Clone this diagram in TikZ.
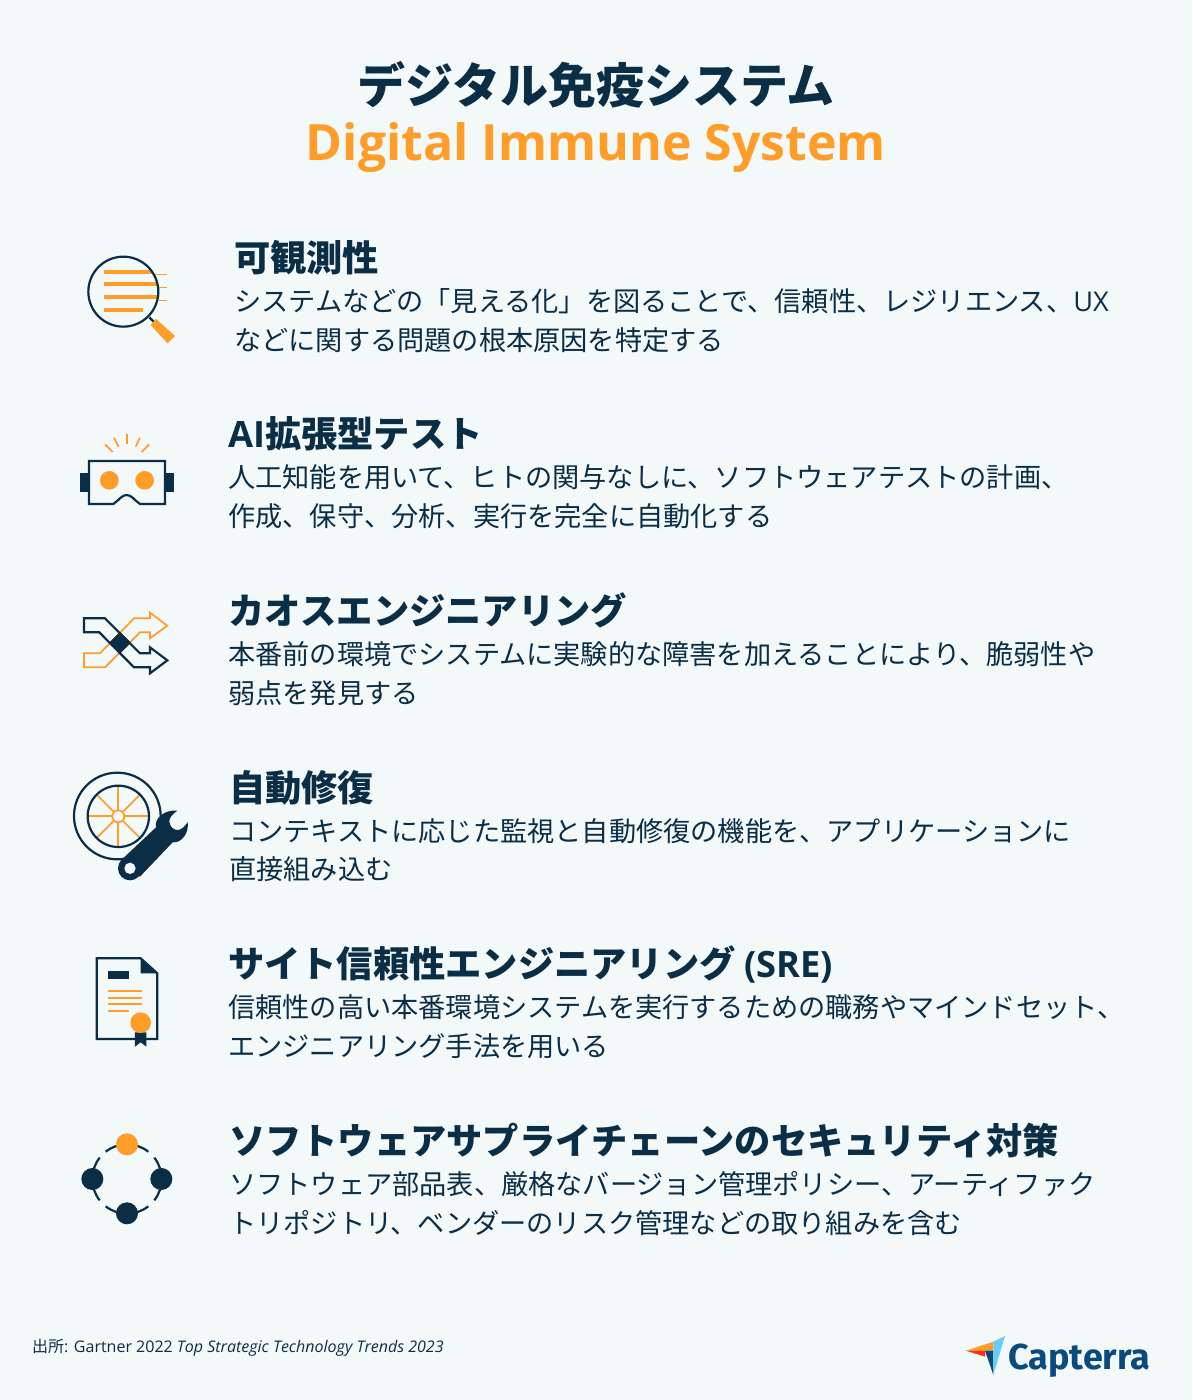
\documentclass[tikz,border=0pt]{standalone}
\usepackage{fontspec}
\usepackage{xcolor}
\usepackage{tikz}
\usetikzlibrary{positioning}
\setmainfont{Open Sans}
\newfontfamily\jpfont{Noto Sans CJK JP}
\newfontfamily\logofont{Fira Sans}
\definecolor{pagebg}{HTML}{F3F8F9}
\definecolor{navy}{HTML}{0B2E47}
\definecolor{amber}{HTML}{FF9D28}
\definecolor{capblue}{HTML}{0B4A7C}
\tikzset{
    maintitle/.style={anchor=base, inner sep=0pt, text=navy, font=\jpfont\bfseries\fontsize{48}{50}\selectfont},
    subtitle/.style={anchor=base, inner sep=0pt, text=amber, font=\bfseries\fontsize{50}{52}\selectfont},
    heading/.style={anchor=base west, inner sep=0pt, text=navy, font=\jpfont\bfseries\fontsize{36.25}{38}\selectfont},
    bodytext/.style={inner sep=0pt, align=left, text=navy, font=\jpfont\fontsize{27.2}{38.8}\selectfont},
    navyline/.style={draw=navy, line width=2.2pt},
    amberline/.style={draw=amber, line width=1.7pt},
}
\newcommand{\lat}[1]{{\rmfamily #1}}
\begin{document}
\begin{tikzpicture}[x=1pt, y=-1pt, line join=miter]
    \useasboundingbox (0,0) rectangle (1192,1400);
    \fill[pagebg] (0,0) rectangle (1192,1400);

    % Title
    \node[maintitle] (title) at (596,103) {デジタル免疫システム};
    \node[subtitle, below=57.5pt of title.base, anchor=base] (subtitle) {Digital Immune System};

    % Headings and their descriptions
    \node[heading] (head1) at (234,271) {可観測性};
    \node[bodytext, below=17pt of head1.base west, anchor=north west] (body1) {システムなどの「見える化」を図ることで、信頼性、レジリエンス、\lat{UX}\\などに関する問題の根本原因を特定する};

    \node[heading] (head2) at (228,447.5) {\lat{AI}拡張型テスト};
    \node[bodytext, below=17pt of head2.base west, anchor=north west] (body2) {人工知能を用いて、ヒトの関与なしに、ソフトウェアテストの計画、\\作成、保守、分析、実行を完全に自動化する};

    \node[heading] (head3) at (228,624) {カオスエンジニアリング};
    \node[bodytext, below=17pt of head3.base west, anchor=north west] (body3) {本番前の環境でシステムに実験的な障害を加えることにより、脆弱性や\\弱点を発見する};

    \node[heading] (head4) at (229,801) {自動修復};
    \node[bodytext, below=17pt of head4.base west, anchor=north west] (body4) {コンテキストに応じた監視と自動修復の機能を、アプリケーションに\\直接組み込む};

    \node[heading] (head5) at (228,977.5) {サイト信頼性エンジニアリング \lat{(SRE)}};
    \node[bodytext, below=17pt of head5.base west, anchor=north west] (body5) {信頼性の高い本番環境システムを実行するための職務やマインドセット、\\エンジニアリング手法を用いる};

    \node[heading] (head6) at (229,1154) {ソフトウェアサプライチェーンのセキュリティ対策};
    \node[bodytext, below=17pt of head6.base west, anchor=north west] (body6) {ソフトウェア部品表、厳格なバージョン管理ポリシー、アーティファク\\トリポジトリ、ベンダーのリスク管理などの取り組みを含む};

    % Source line
    \node[anchor=base west, inner sep=0pt, text=navy, font=\fontsize{16}{18}\selectfont] (source) at (32,1352) {{\jpfont 出所}: Gartner 2022 \textit{Top Strategic Technology Trends 2023}};

    % Magnifier icon
    \begin{scope}[shift={(60,230)}, scale=0.3333]
        \draw[amberline, line width=4pt] (133,126) -- (275,126);
        \draw[amberline, line width=4pt] (133,163) -- (295,163);
        \draw[amberline, line width=4pt] (133,202) -- (295,202);
        \draw[amberline, line width=4pt] (133,239) -- (248,239);
        \draw[amberline, line width=1pt] (285,135) -- (320,135);
        \draw[amberline, line width=1pt] (298,174) -- (320,174);
        \draw[amberline, line width=1pt] (298,211) -- (320,211);
        \draw[navyline] (190,185) circle (105);
        \draw[navyline] (268,262) -- (282,276);
        \fill[amber] (288,267) -- (345,318) -- (323,340) -- (272,285) -- cycle;
    \end{scope}

    % Goggles icon
    \begin{scope}[shift={(60,420)}, scale=0.3333]
        \draw[amberline] (135,73) -- (158,96);
        \draw[amberline] (162,53) -- (176,80);
        \draw[amberline] (202,43) -- (202,73);
        \draw[amberline] (240,53) -- (227,80);
        \draw[amberline] (268,73) -- (245,96);
        \fill[navy] (60,160) rectangle (87,215);
        \fill[navy] (315,160) rectangle (341,215);
        \draw[navyline] (87,123) -- (315,123) -- (315,252) -- (240,252)
            .. controls (222,240) and (215,225) .. (200,225)
            .. controls (185,225) and (178,240) .. (160,252) -- (87,252) -- cycle;
        \fill[amber] (148,181) circle (28);
        \fill[amber] (254,181) circle (28);
    \end{scope}

    % Crossing arrows icon
    \begin{scope}[shift={(60,595)}, scale=0.3333]
        \draw[amberline] (72,175) -- (120,175) -- (222,70) -- (270,70) -- (270,53) -- (322,92) -- (270,130) -- (270,112) -- (240,112) -- (135,217) -- (72,217) -- cycle;
        \draw[navyline] (72,70) -- (135,70) -- (240,175) -- (270,175) -- (270,157) -- (322,196) -- (270,235) -- (270,217) -- (222,217) -- (118,112) -- (72,112) -- cycle;
        \fill[navy] (180,111) -- (213,143) -- (180,176) -- (148,143) -- cycle;
    \end{scope}

    % Wheel and wrench icon
    \begin{scope}[shift={(60,760)}, scale=0.3333]
        \draw[navyline] (172,168) circle (130);
        \foreach \ang in {0,45,...,315}
            \draw[amberline] (175,169) ++(\ang:18) -- ++(\ang:72);
        \draw[amberline] (175,169) circle (18);
        \draw[navyline] (175,169) circle (92);
        \fill[navy] (210,325) circle (36);
        \fill[navy] (186,298) -- (288,202)
            .. controls (282,178) and (310,148) .. (352,152)
            .. controls (338,162) and (328,172) .. (328,184)
            .. controls (328,200) and (342,210) .. (352,210)
            .. controls (364,210) and (375,200) .. (383,186)
            .. controls (388,218) and (365,250) .. (338,247)
            -- (240,350) -- cycle;
        \fill[pagebg] (210,325) circle (17);
    \end{scope}

    % Certificate icon
    \begin{scope}[shift={(70,945)}, scale=0.3333]
        \draw[navyline] (80,40) -- (212,40) -- (262,85) -- (262,282) -- (80,282) -- cycle;
        \fill[navy] (212,40) -- (262,85) -- (212,85) -- cycle;
        \fill[navy] (115,77) rectangle (178,101);
        \draw[amberline] (115,137) -- (216,137);
        \draw[amberline] (115,158) -- (216,158);
        \draw[amberline] (115,178) -- (216,178);
        \draw[amberline] (115,198) -- (177,198);
        \fill[navy] (195,262) -- (229,262) -- (229,305) -- (212,292) -- (195,305) -- cycle;
        \fill[amber] (212,233) circle (31);
    \end{scope}

    % Supply chain icon
    \begin{scope}[shift={(65,1120)}, scale=0.3333]
        \foreach \ang in {52,142,232,322}
            \draw[navyline] (186,177) ++(\ang:104) arc[start angle=\ang, delta angle=76, radius=104];
        \fill[amber] (186,73) circle (33);
        \fill[navy] (82,177) circle (33);
        \fill[navy] (289,177) circle (33);
        \fill[navy] (186,280) circle (33);
    \end{scope}

    % Logo
    \begin{scope}[shift={(950,1320)}, scale=0.3333]
        \fill[amber] (48,92) -- (130,65) -- (130,92) -- cycle;
        \fill[red!70!amber] (48,92) -- (105,92) -- (105,110) -- cycle;
        \fill[capblue] (105,92) -- (130,92) -- (130,165) -- cycle;
        \fill[cyan!60!white] (130,65) -- (165,48) -- (130,165) -- cycle;
    \end{scope}
    \node[anchor=base west, inner sep=0pt, text=capblue, font=\logofont\bfseries\fontsize{36}{38}\selectfont] (logotext) at (1008,1369) {Capterra};
\end{tikzpicture}
\end{document}
